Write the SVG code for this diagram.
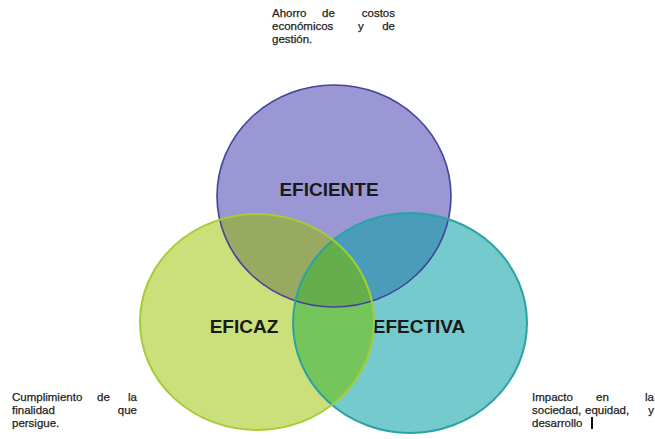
<svg xmlns="http://www.w3.org/2000/svg" width="655" height="439" viewBox="0 0 655 439">
<style>
.lbl{font-family:"Liberation Sans",Arial,sans-serif;font-weight:bold;font-size:19px;fill:#1a1a1a;text-anchor:middle}
.note{font-family:"Liberation Sans",Arial,sans-serif;font-size:11.5px;fill:#1e1e1e;stroke:#1e1e1e;stroke-width:0.25}
.end{text-anchor:end}
</style>
<defs>
<clipPath id="cpG" clipPathUnits="userSpaceOnUse"><ellipse cx="257" cy="322" rx="117" ry="108"/></clipPath>
<clipPath id="cpT" clipPathUnits="userSpaceOnUse"><ellipse cx="410" cy="323" rx="117" ry="110"/></clipPath>
</defs>
<rect width="655" height="439" fill="#ffffff"/>
<g id="fills">
<ellipse cx="334" cy="196" rx="117" ry="111" fill="#9b97d4"/>
<ellipse cx="257" cy="322" rx="117" ry="108" fill="#cbe07a"/>
<ellipse cx="410" cy="323" rx="117" ry="110" fill="#74cacd"/>
</g>
<g id="overlaps">
<g clip-path="url(#cpG)"><ellipse cx="334" cy="196" rx="117" ry="111" fill="#98aa62"/></g>
<g clip-path="url(#cpT)"><ellipse cx="334" cy="196" rx="117" ry="111" fill="#4a9cbb"/></g>
<g clip-path="url(#cpT)"><ellipse cx="257" cy="322" rx="117" ry="108" fill="#74c65a"/></g>
<g clip-path="url(#cpT)"><g clip-path="url(#cpG)"><ellipse cx="334" cy="196" rx="117" ry="111" fill="#64ae4c"/></g></g>
</g>
<g id="eficiente">
<ellipse cx="334" cy="196" rx="117" ry="111" fill="none" stroke="#45439a" stroke-width="1.6"/>
<text class="lbl" x="329" y="196">EFICIENTE</text>
</g>
<g id="efectiva">
<ellipse cx="410" cy="323" rx="117" ry="110" fill="none" stroke="#2aa3a2" stroke-width="2"/>
<text class="lbl" x="419" y="333">EFECTIVA</text>
</g>
<g id="eficaz">
<ellipse cx="257" cy="322" rx="117" ry="108" fill="none" stroke="#a5cd35" stroke-width="2"/>
<text class="lbl" x="244" y="333">EFICAZ</text>
</g>
<g id="note-top">
<text class="note" x="272" y="17">Ahorro</text>
<text class="note" x="322" y="17">de</text>
<text class="note end" x="395" y="17">costos</text>
<text class="note" x="272" y="30">económicos</text>
<text class="note" x="358" y="30">y</text>
<text class="note end" x="395" y="30">de</text>
<text class="note" x="272" y="43">gestión.</text>
</g>
<g id="note-left">
<text class="note" x="12" y="401">Cumplimiento</text>
<text class="note" x="97" y="401">de</text>
<text class="note end" x="137" y="401">la</text>
<text class="note" x="12" y="414">finalidad</text>
<text class="note end" x="137" y="414">que</text>
<text class="note" x="12" y="427">persigue.</text>
</g>
<g id="note-right">
<text class="note" x="532" y="401">Impacto</text>
<text class="note" x="596" y="401">en</text>
<text class="note end" x="654" y="401">la</text>
<text class="note" x="532" y="414">sociedad,</text>
<text class="note" x="585" y="414">equidad,</text>
<text class="note end" x="654" y="414">y</text>
<text class="note" x="532" y="427">desarrollo</text>
<rect x="591" y="417" width="2" height="12" fill="#111"/>
</g>
</svg>
